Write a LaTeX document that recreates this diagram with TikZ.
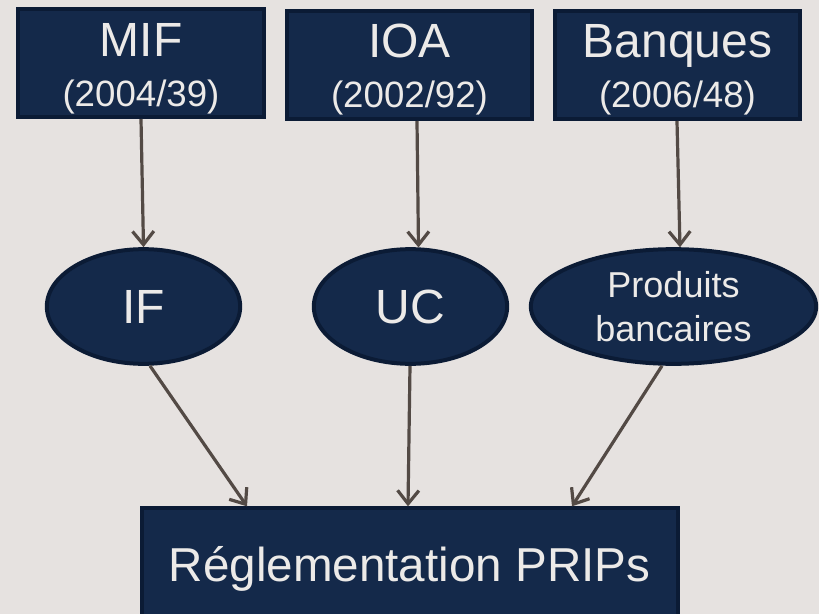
\documentclass[tikz,border=0pt]{standalone}
\usepackage{fontspec}
\setmainfont{Liberation Sans}
\usetikzlibrary{arrows.meta,shapes.geometric,calc}
\definecolor{bgcol}{HTML}{E6E2E0}
\definecolor{navyfill}{HTML}{14294A}
\definecolor{navyedge}{HTML}{0B1B35}
\definecolor{lighttext}{HTML}{ECEAE8}
\definecolor{linkcol}{HTML}{534A45}
\tikzset{
  topbox/.style={rectangle, draw=navyedge, fill=navyfill, line width=3pt,
    text=lighttext, inner sep=0pt, align=center,
    minimum width=184pt, minimum height=81pt},
  toplabel/.style={text=lighttext, align=center, anchor=base,
    font=\fontsize{36}{37}\selectfont},
  oval/.style={ellipse, draw=navyedge, fill=navyfill, line width=3pt,
    text=lighttext, inner sep=0pt, align=center,
    minimum width=145pt, minimum height=86pt},
  bigbox/.style={rectangle, draw=navyedge, fill=navyfill, line width=3pt,
    text=lighttext, inner sep=0pt,
    minimum width=402pt, minimum height=91pt},
  link/.style={draw=linkcol, line width=2.4pt,
    -{Straight Barb[length=10pt,width=16pt,line width=2.4pt]}},
}
\newcommand{\sublabel}[1]{\fontsize{27.5}{37}\selectfont #1}
\begin{document}
\begin{tikzpicture}[x=0.75pt,y=-0.75pt]
  \useasboundingbox (0,0) rectangle (819,614);
  \fill[bgcol] (0,0) rectangle (819,614);

  % directive boxes
  \node[topbox] (mif) at (141,63) {};
  \node[topbox] (ioa) at (409.5,65) {};
  \node[topbox] (banques) at (677.5,65) {};
  % their titles; the base anchor sits on the last line (the year)
  \node[toplabel] (miflbl) at ($(mif.center)+(0,43)$) {MIF\\\sublabel{(2004/39)}};
  \node[toplabel] (ioalbl) at ($(ioa.center)+(0,42)$) {IOA\\\sublabel{(2002/92)}};
  \node[toplabel] (banqueslbl) at ($(banques.center)+(0,42)$) {Banques\\\sublabel{(2006/48)}};

  % product families
  \node[oval, font=\fontsize{36}{40}\selectfont] (if) at (143.5,306.5) {IF};
  \node[oval, font=\fontsize{36}{40}\selectfont] (uc) at (410.5,306.5) {UC};
  \node[oval, minimum width=214pt, font=\fontsize{27}{33}\selectfont] (prod) at (673.5,306.5) {Produits\\bancaires};

  % resulting regulation (runs past the lower edge)
  \node[bigbox, font=\fontsize{35.7}{40}\selectfont] (reg) at (409.5,569) {Réglementation PRIPs};

  % connectors
  \draw[link] (mif.south) -- (if.north);
  \draw[link] ($(ioa.south)+(7.5,0)$) -- ($(uc.north)+(8,0.3)$);
  \draw[link] ($(banques.south)+(-0.5,0)$) -- ($(prod.north)+(6.5,0.1)$);
  \draw[link] ($(if.south)+(6.5,0)$) -- ($(reg.north)+(-162.5,0)$);
  \draw[link] ($(uc.south)+(-0.5,0)$) -- ($(reg.north)+(-1.5,0)$);
  \draw[link] ($(prod.south)+(-11.5,0)$) -- ($(reg.north)+(162.5,0)$);
\end{tikzpicture}
\end{document}
